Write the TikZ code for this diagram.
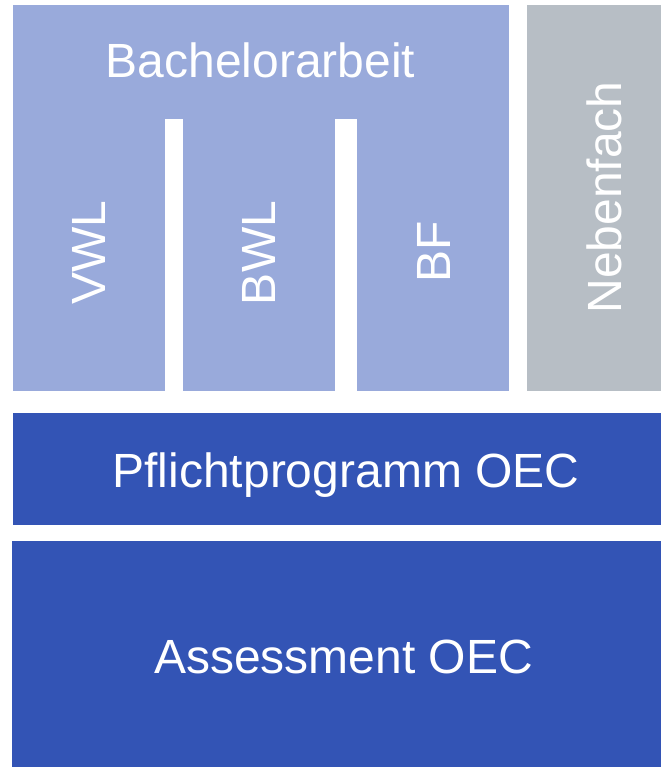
\documentclass[tikz,border=0pt]{standalone}
\usepackage{fontspec}
\setmainfont{Liberation Sans}
\definecolor{lightblk}{HTML}{99AADB}
\definecolor{grayblk}{HTML}{B7BEC5}
\definecolor{darkblk}{HTML}{3354B5}
\begin{document}
\begin{tikzpicture}[x=1pt,y=-1pt,
  lbl/.style={text=white,inner sep=0pt,font=\fontsize{48}{58}\selectfont},
  vlbl/.style={lbl,rotate=90,anchor=center}]
\useasboundingbox (0,0) rectangle (661,767);
% top light-blue block
\fill[lightblk] (13,5) rectangle (509,119);
\fill[lightblk] (13,119) rectangle (165,391);
\fill[lightblk] (183,119) rectangle (335,391);
\fill[lightblk] (357,119) rectangle (509,391);
% gray column
\fill[grayblk] (527,5) rectangle (661,391);
% dark blue bars
\fill[darkblk] (13,413) rectangle (661,525);
\fill[darkblk] (12,541) rectangle (661,767);
% labels
\node[lbl,anchor=base] (bach) at (260.5,78) {Bachelorarbeit};
\node[vlbl] (vwl) at (89,252.5) {VWL};
\node[vlbl] (bwl) at (259,253) {BWL};
\node[vlbl] (bf) at (433.5,251.5) {BF};
\node[vlbl] (neben) at (604,197.5) {Nebenfach};
\node[lbl,anchor=base] (pflicht) at (346,487) {Pflichtprogramm OEC};
\node[lbl,anchor=base] (assess) at (343.5,673) {Assessment OEC};
\end{tikzpicture}
\end{document}
